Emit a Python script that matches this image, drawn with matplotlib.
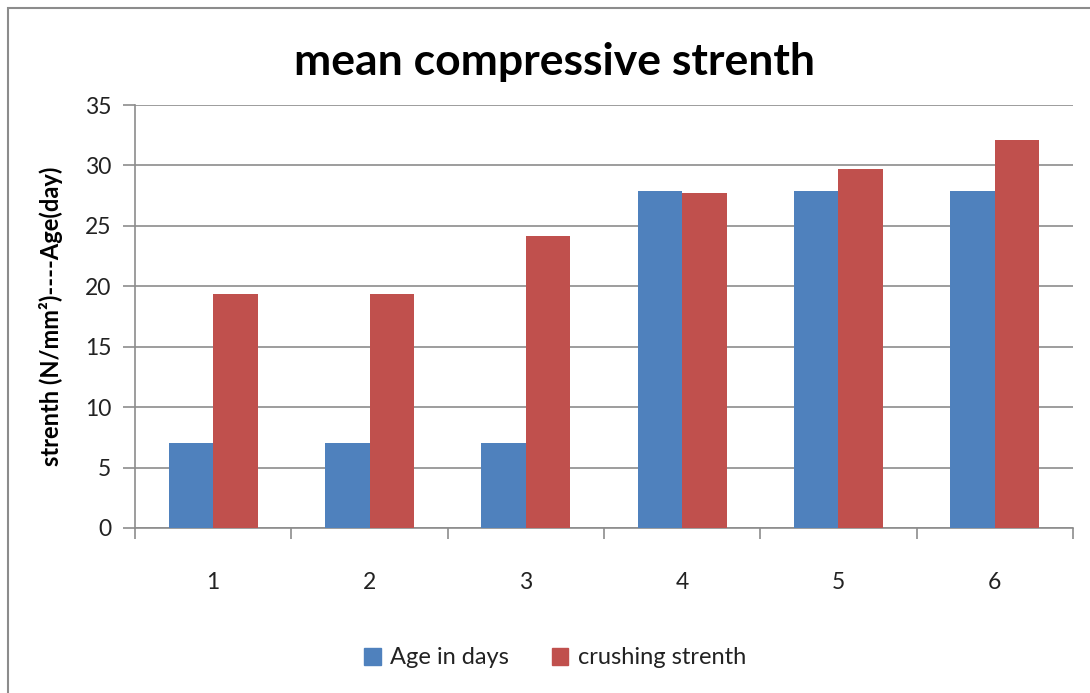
import matplotlib
matplotlib.use("Agg")
import matplotlib.pyplot as plt
import numpy as np
from matplotlib.patches import Rectangle, Patch

categories = ["1", "2", "3", "4", "5", "6"]
age_in_days = [7, 7, 7, 27.9, 27.9, 27.9]
crushing_strenth = [19.4, 19.4, 24.2, 27.7, 29.7, 32.1]
yticks = [0, 5, 10, 15, 20, 25, 30, 35]

plt.rcParams['font.family'] = ['Lato', 'DejaVu Sans']

W, H = 1090, 693
fig = plt.figure(figsize=(W / 100, H / 100), dpi=100)
fig.patch.set_facecolor("white")

# outer chart border
fig.add_artist(Rectangle((8 / W, -0.05), 1.2, 1 - 8 / H + 0.05, transform=fig.transFigure,
                         fill=False, edgecolor="#8c8c8c", linewidth=1.5))

ax = fig.add_axes([135 / W, 1 - 528 / H, (1073 - 135) / W, (528 - 105) / H])
x = np.arange(len(categories))
bw = 0.2857
blue = "#4f81bd"
red = "#c0504d"
ax.bar(x - bw / 2, age_in_days, bw, color=blue, label="Age in days", zorder=3)
ax.bar(x + bw / 2, crushing_strenth, bw, color=red, label="crushing strenth", zorder=3)

ax.set_xlim(-0.5, len(categories) - 0.5)
ax.set_ylim(0, 35)
ax.set_yticks(yticks)
ax.set_yticklabels([str(v) for v in yticks])
ax.set_xticks(x)
ax.set_xticklabels(categories)
ax.set_xticks(np.arange(-0.5, len(categories)), minor=True)

ax.grid(axis="y", color="#8c8c8c", linewidth=1.2, zorder=0)
for s in ["top", "right"]:
    ax.spines[s].set_visible(False)
for s in ["left", "bottom"]:
    ax.spines[s].set_color("#8c8c8c")
    ax.spines[s].set_linewidth(1.2)

ax.tick_params(axis="y", which="major", length=9, color="#8c8c8c", width=1.2,
               labelsize=16.5, labelcolor="#222222", pad=8)
ax.tick_params(axis="x", which="major", length=0, labelsize=16.5, labelcolor="#222222", pad=32)
ax.tick_params(axis="x", which="minor", length=8, color="#8c8c8c", width=1.2)

ax.set_ylabel("strenth (N/mm²)----Age(day)", fontsize=17, fontweight="bold", labelpad=16)

fig.text(555 / W, 1 - 62 / H, "mean compressive strenth", fontsize=32, fontweight="bold",
         ha="center", va="center")

handles = [Patch(color=blue, label="Age in days"), Patch(color=red, label="crushing strenth")]
fig.legend(handles=handles, loc="center", bbox_to_anchor=(555 / W, 1 - 658 / H), ncol=2,
           frameon=False, fontsize=17, handlelength=0.7, handleheight=0.7,
           handletextpad=0.4, columnspacing=1.8, labelcolor="#222222")

fig.savefig("out.png", dpi=100)
